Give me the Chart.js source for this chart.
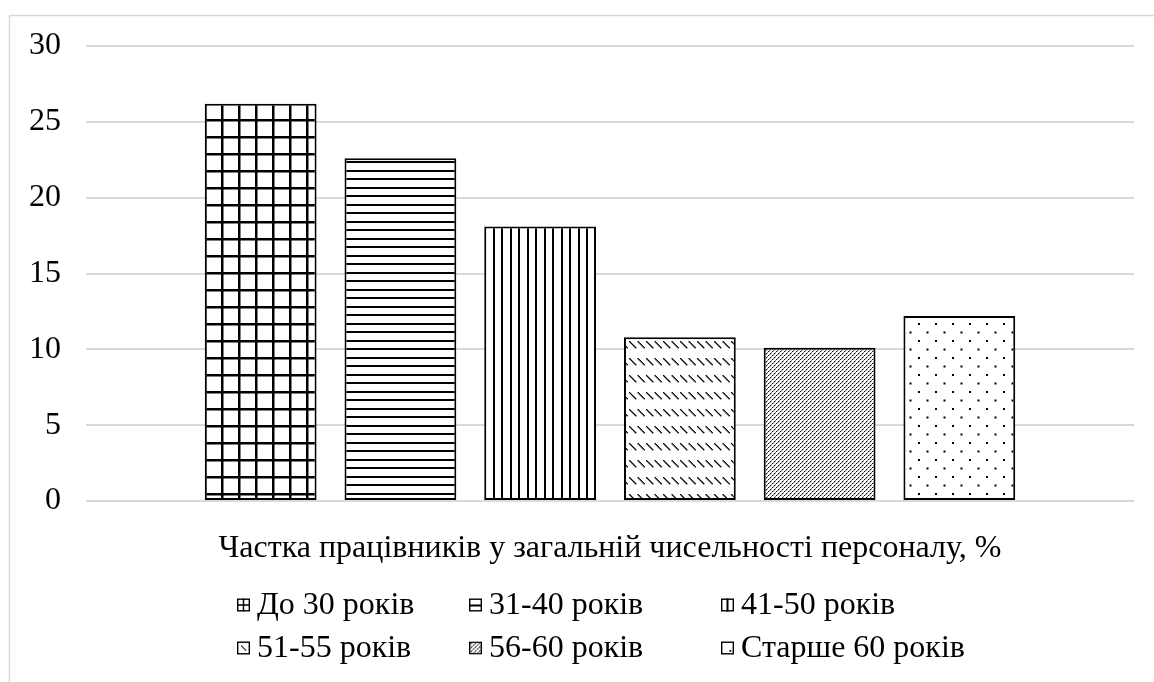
<!DOCTYPE html>
<html lang="uk">
<head>
<meta charset="utf-8">
<title>Вікова структура персоналу</title>
<script src="https://cdn.jsdelivr.net/npm/chart.js@4"></script>
<style>
  html, body { margin: 0; padding: 0; background: #ffffff; }
  #wrap { width: 1154px; height: 682px; }
</style>
</head>
<body>
<div id="wrap"><canvas id="chart" width="1154" height="682"></canvas></div>
<script>
// Single category shown under the bars
const categories = ['Частка працівників у загальній чисельності персоналу, %'];

// Age groups (one bar each)
const ageGroups = ['До 30 років', '31-40 років', '41-50 років', '51-55 років', '56-60 років', 'Старше 60 років'];

// Share of each age group, %
const shares = [26.2, 22.6, 18.1, 10.8, 10.1, 12.2];

// Value axis
const yTicks = [0, 5, 10, 15, 20, 25, 30];

// Fill style of each bar
const patternKinds = ['grid', 'horizontal', 'vertical', 'dashedDiagonal', 'denseDiagonal', 'dots'];

const FONT = '"Liberation Serif", "Times New Roman", serif';
const FONT_SIZE = 32;

function makeTile(kind) {
  const size = kind === 'denseDiagonal' ? 4 : 17;
  const c = document.createElement('canvas');
  c.width = size; c.height = size;
  const g = c.getContext('2d');
  g.fillStyle = '#ffffff';
  g.fillRect(0, 0, size, size);
  g.fillStyle = '#000000';
  if (kind === 'grid') {
    g.fillRect(0, 0, size, 2.5);
    g.fillRect(0, 0, 2.5, size);
  } else if (kind === 'horizontal') {
    g.fillRect(0, 0, size, 2);
    g.fillRect(0, 8, size, 2);
  } else if (kind === 'vertical') {
    g.fillRect(0, 0, 2, size);
    g.fillRect(8, 0, 2, size);
  } else if (kind === 'dashedDiagonal') {
    [0, 8.5].forEach(x0 => {
      for (let i = 0; i < 7; i++) g.fillRect(x0 + i, 1 + i, 1.4, 1.4);
    });
  } else if (kind === 'denseDiagonal') {
    for (let i = 0; i < 4; i++) {
      g.fillStyle = i % 2 ? '#7a7a7a' : '#111111';
      g.fillRect(i, 3 - i, 1.2, 1.2);
    }
  } else if (kind === 'dots') {
    g.fillRect(0, 0, 2, 2);
    g.fillRect(8.5, 8.5, 2, 2);
  }
  return c;
}

const ctx = document.getElementById('chart').getContext('2d');
const tiles = patternKinds.map(makeTile);
const patterns = tiles.map(t => ctx.createPattern(t, 'repeat'));

const datasets = ageGroups.map((name, i) => ({
  label: name,
  data: [shares[i]],
  backgroundColor: patterns[i],
  borderColor: '#000000',
  borderWidth: 2,
  borderSkipped: false,
  categoryPercentage: 0.8,
  barPercentage: 0.8
}));

// Small legend swatch drawn as a miniature of the bar fill
function drawSwatch(c, kind, x, y, s) {
  c.save();
  c.translate(x, y);
  c.fillStyle = '#ffffff';
  c.fillRect(0, 0, s, s);
  c.fillStyle = '#000000';
  const m = s / 2;
  if (kind === 'grid') {
    c.fillRect(m - 0.75, 0, 1.5, s);
    c.fillRect(0, m - 0.75, s, 1.5);
  } else if (kind === 'horizontal') {
    c.fillRect(0, m - 0.5, s, 2);
  } else if (kind === 'vertical') {
    c.fillRect(m - 1, 0, 2, s);
  } else if (kind === 'dashedDiagonal') {
    for (let i = 0; i < 5; i++) c.fillRect(4 + i, 4 + i, 1.2, 1.2);
  } else if (kind === 'denseDiagonal') {
    c.beginPath(); c.rect(0, 0, s, s); c.clip();
    c.fillStyle = c.createPattern(tiles[4], 'repeat');
    c.fillRect(0, 0, s, s);
  } else if (kind === 'dots') {
    c.fillRect(s - 4.5, s - 4.5, 1.8, 1.8);
  }
  c.strokeStyle = '#000000';
  c.lineWidth = 1.4;
  c.strokeRect(0.7, 0.7, s - 1.4, s - 1.4);
  c.restore();
}

// Light frame around the chart
const framePlugin = {
  id: 'frame',
  beforeDraw(chart) {
    const c = chart.ctx;
    c.save();
    c.fillStyle = '#ffffff';
    c.fillRect(0, 0, chart.width, chart.height);
    c.strokeStyle = '#d9d9d9';
    c.lineWidth = 1.5;
    c.beginPath();
    c.moveTo(9.5, chart.height + 2);
    c.lineTo(9.5, 15.5);
    c.lineTo(chart.width + 2, 15.5);
    c.stroke();
    c.restore();
  }
};

// Two-row legend with aligned columns
const legendPlugin = {
  id: 'gridLegend',
  afterDraw(chart) {
    const c = chart.ctx;
    const swatchX = [237, 469, 721];
    const rowY = [605, 648];
    const box = 13;
    c.save();
    c.font = FONT_SIZE + 'px ' + FONT;
    c.textBaseline = 'middle';
    c.textAlign = 'left';
    chart.data.datasets.forEach((ds, i) => {
      const col = i % 3, row = Math.floor(i / 3);
      const x = swatchX[col], y = rowY[row];
      drawSwatch(c, patternKinds[i], x, y - box / 2, box);
      c.fillStyle = '#000000';
      c.fillText(ds.label, x + box + 7, y + 1);
    });
    c.restore();
  }
};

new Chart(ctx, {
  type: 'bar',
  data: { labels: categories, datasets },
  options: {
    responsive: false,
    animation: false,
    devicePixelRatio: 1,
    layout: { padding: { left: 10, right: 20, top: 46, bottom: 0 } },
    plugins: {
      legend: { display: false },
      tooltip: { enabled: false }
    },
    scales: {
      y: {
        min: yTicks[0],
        max: yTicks[yTicks.length - 1],
        afterBuildTicks(scale) { scale.ticks = yTicks.map(v => ({ value: v })); },
        afterFit(scale) { scale.width = 76; },
        ticks: {
          color: '#000000',
          font: { family: FONT, size: FONT_SIZE },
          padding: 25
        },
        grid: { color: '#d9d9d9', lineWidth: 2, drawTicks: false },
        border: { display: false }
      },
      x: {
        afterFit(scale) { scale.height = 181; },
        ticks: {
          color: '#000000',
          font: { family: FONT, size: FONT_SIZE },
          padding: 28,
          maxRotation: 0
        },
        grid: { display: false, drawTicks: false },
        border: { display: false }
      }
    }
  },
  plugins: [framePlugin, legendPlugin]
});
</script>
</body>
</html>
